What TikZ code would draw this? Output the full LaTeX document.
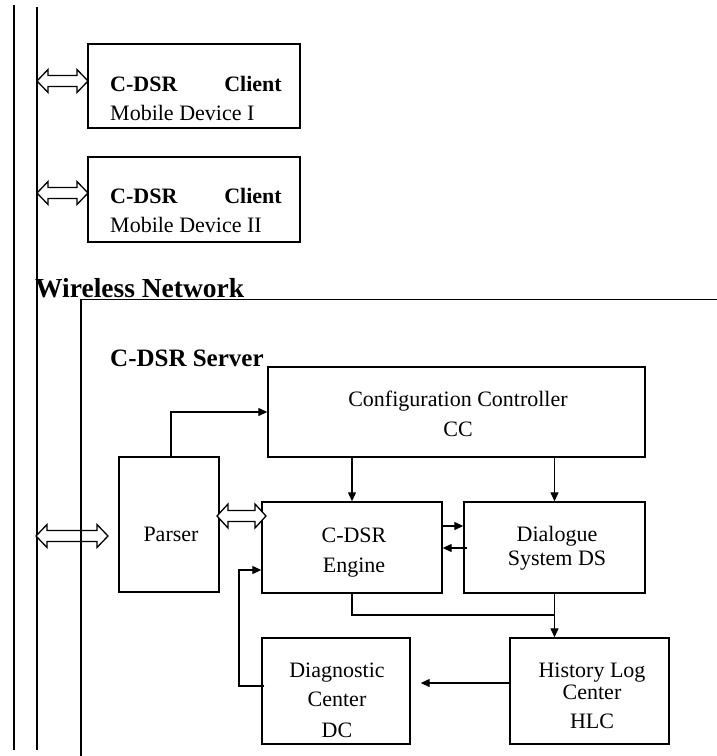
\documentclass[tikz,border=0pt]{standalone}
\usepackage{fontspec}
\setmainfont{Liberation Serif}
\usetikzlibrary{arrows.meta,calc}
\newcommand\mydblarrow[4]{%
  \draw[dblstyle] (#1,#3) -- ({#1+11},{#3-#4}) -- ({#1+11},{#3-5.5}) -- ({#2-11},{#3-5.5}) -- ({#2-11},{#3-#4}) -- (#2,#3) -- ({#2-11},{#3+#4}) -- ({#2-11},{#3+5.5}) -- ({#1+11},{#3+5.5}) -- ({#1+11},{#3+#4}) -- cycle;}
\tikzset{
  box/.style={draw, line width=1.4pt, inner sep=0pt},
  bus/.style={line width=1.4pt},
  arr/.style={line width=1.3pt, -{Triangle[length=9pt,width=8pt]}},
  conn/.style={line width=1.3pt},
  dblstyle/.style={line width=1.3pt, fill=white, line join=miter},
  txt/.style={anchor=base, inner sep=0pt, font=\fontsize{22}{26}\selectfont},
  txtw/.style={anchor=base west, inner sep=0pt, font=\fontsize{22}{26}\selectfont},
  btxtw/.style={anchor=base west, inner sep=0pt, font=\fontsize{22}{26}\selectfont\bfseries},
  btxte/.style={anchor=base east, inner sep=0pt, font=\fontsize{22}{26}\selectfont\bfseries},
}
\begin{document}
\begin{tikzpicture}[x=1pt, y=-1pt]
\useasboundingbox (0,0) rectangle (717,756);
% buses
\draw[bus] (14,5) -- (14,750);
\draw[bus] (37,7) -- (37,750);
% server box
\node[box, minimum width=641pt, minimum height=457.5pt, anchor=north west] (server) at (81,299) {};
% client boxes
\node[box, minimum width=212pt, minimum height=84pt] (client1) at (194,86) {};
\node[box, minimum width=212pt, minimum height=85pt] (client2) at (194,199.5) {};
\node[btxtw] (cl1a) at (110,91) {C-DSR};
\node[btxte] (cl1b) at (282,91) {Client};
\node[txtw] (cl1c) at (110,120) {Mobile Device I};
\node[btxtw] (cl2a) at (110,203) {C-DSR};
\node[btxte] (cl2b) at (282,203) {Client};
\node[txtw] (cl2c) at (110,232) {Mobile Device II};
\mydblarrow{37}{88}{81}{11.5}
\mydblarrow{37}{88}{193}{11.5}
% labels
\node[anchor=base west, inner sep=0pt, font=\fontsize{27.5}{30}\selectfont\bfseries] (wn) at (35,297) {Wireless Network};
\node[anchor=base west, inner sep=0pt, font=\fontsize{25}{28}\selectfont\bfseries] (srv) at (110,366) {C-DSR Server};
% inner boxes
\node[box, minimum width=377pt, minimum height=90pt] (cc) at (456.5,412) {};
\node[box, minimum width=100pt, minimum height=135pt] (parser) at (169,524.5) {};
\node[box, minimum width=180pt, minimum height=91pt] (engine) at (352,547.5) {};
\node[box, minimum width=181pt, minimum height=91pt] (ds) at (554.5,547.5) {};
\node[box, minimum width=148pt, minimum height=106pt] (dc) at (336,691) {};
\node[box, minimum width=159pt, minimum height=106pt] (hlc) at (589.5,691) {};
% texts
\node[txt] (cc1) at (458,406) {Configuration Controller};
\node[txt] (cc2) at (458,436) {CC};
\node[txt] (par) at (171,541) {Parser};
\node[txt] (en1) at (354,542) {C-DSR};
\node[txt] (en2) at (354,572) {Engine};
\node[txt] (ds1) at (557,541) {Dialogue};
\node[txt] (ds2) at (557,565) {System DS};
\node[txt] (dc1) at (337,677) {Diagnostic};
\node[txt] (dc2) at (337,706) {Center};
\node[txt] (dc3) at (337,737) {DC};
\node[txt] (hl1) at (592,677) {History Log};
\node[txt] (hl2) at (592,699) {Center};
\node[txt] (hl3) at (592,728) {HLC};
% connectors
\draw[arr] ([xshift=2pt]parser.north) |- (cc.west);
\draw[arr] (cc.south -| engine.north) -- (engine.north);
\draw[arr] (cc.south -| ds.north) -- (ds.north);
\draw[arr] (engine.east |- 0,526) -- (ds.west |- 0,526);
\draw[arr] ([xshift=4pt]ds.west |- 0,548) -- (engine.east |- 0,548);
\draw[conn] (engine.south) |- (ds.south |- 0,615);
\draw[arr] (ds.south) -- (ds.south |- hlc.north);
\draw[arr] (hlc.west |- 0,683) -- ([xshift=10pt]dc.east |- 0,683);
\draw[arr] ([xshift=3pt]dc.west |- 0,686) -- (239,686) |- (engine.west |- 0,570);
\mydblarrow{217}{266}{516}{12}
\mydblarrow{36}{108}{536}{11.5}
\draw[bus] (server.north west) -- (server.south west);
\end{tikzpicture}
\end{document}
